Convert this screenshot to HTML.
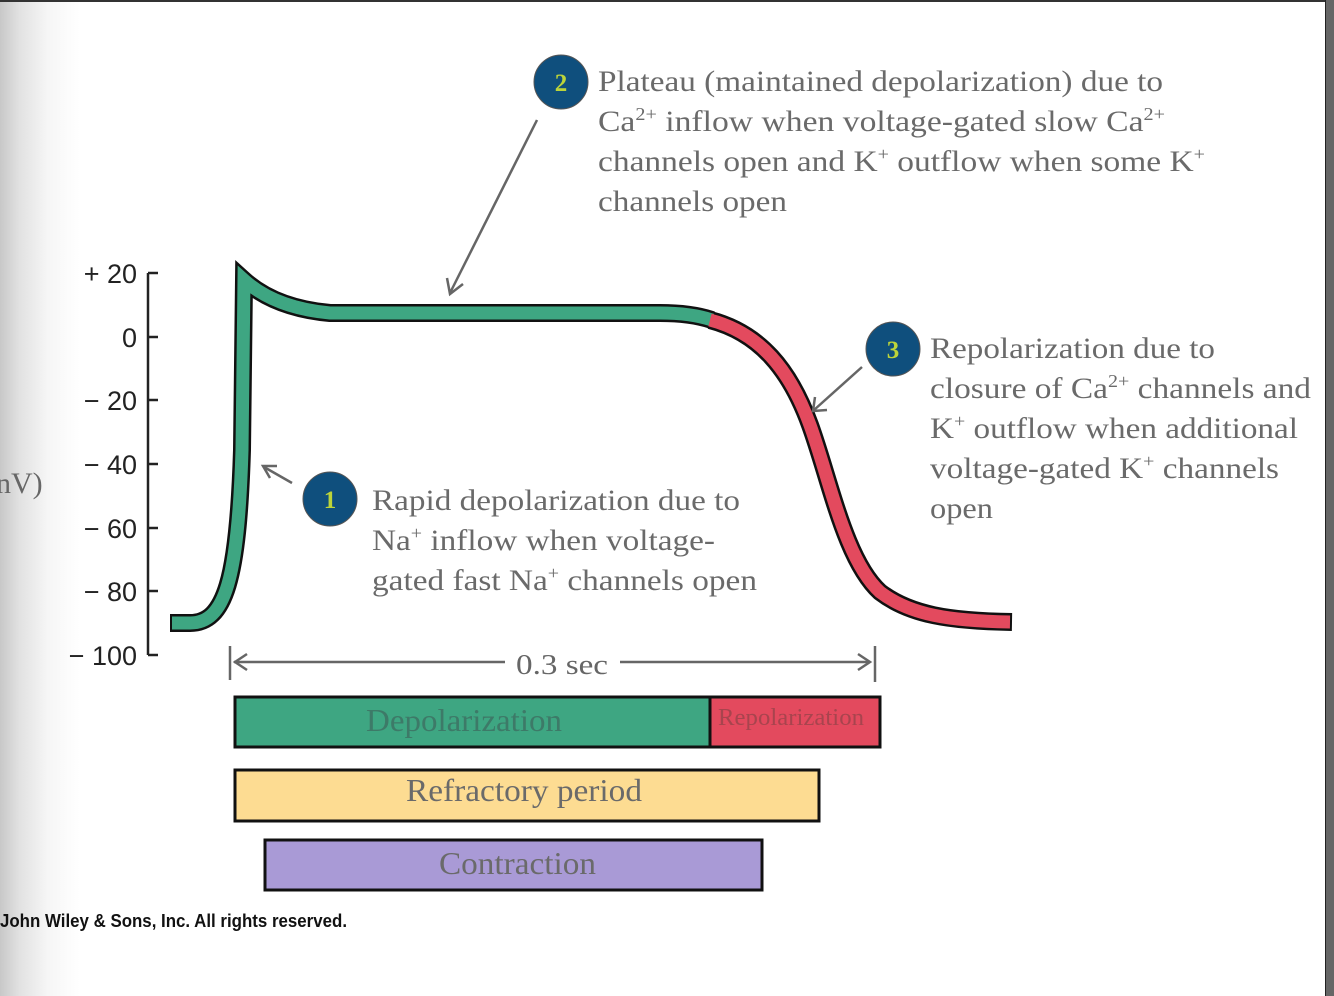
<!DOCTYPE html>
<html><head><meta charset="utf-8"><style>
html,body{margin:0;padding:0;background:#fff;}
svg{display:block;}
</style></head><body>
<svg width="1334" height="996" viewBox="0 0 1334 996" xmlns="http://www.w3.org/2000/svg">
<defs>
<linearGradient id="lg" x1="0" x2="1" y1="0" y2="0">
<stop offset="0" stop-color="#c8c8c8"/><stop offset="0.25" stop-color="#e2e2e2"/><stop offset="0.6" stop-color="#f6f6f6"/><stop offset="1" stop-color="#fff"/>
</linearGradient>
</defs>
<rect width="1334" height="996" fill="#fff"/>
<rect x="0" y="0" width="80" height="996" fill="url(#lg)"/>
<rect x="0" y="0" width="1334" height="2" fill="#333"/>
<rect x="1326" y="0" width="8" height="996" fill="#666"/>
<rect x="1325" y="0" width="1" height="996" fill="#222"/>

<!-- axis -->
<g stroke="#222" stroke-width="2.5" fill="none">
<line x1="148" y1="273" x2="148" y2="655"/>
<line x1="148" y1="273" x2="158" y2="273"/>
<line x1="148" y1="337" x2="158" y2="337"/>
<line x1="148" y1="400" x2="158" y2="400"/>
<line x1="148" y1="464" x2="158" y2="464"/>
<line x1="148" y1="528" x2="158" y2="528"/>
<line x1="148" y1="591" x2="158" y2="591"/>
<line x1="148" y1="655" x2="158" y2="655"/>
</g>
<g font-family="Liberation Sans, sans-serif" font-size="27" fill="#222" text-anchor="end">
<text x="137" y="283">+ 20</text>
<text x="137" y="347">0</text>
<text x="137" y="410">− 20</text>
<text x="137" y="474">− 40</text>
<text x="137" y="538">− 60</text>
<text x="137" y="601">− 80</text>
<text x="137" y="665">− 100</text>
</g>
<text x="-4" y="493" font-family="Liberation Serif, serif" font-size="30" fill="#666">nV)</text>

<!-- curve -->
<g fill="none" stroke-linejoin="miter" stroke-miterlimit="10">
<path d="M170,623 L190,623 C225,623 238,580 242,450 L244,280 Q275,308 330,313 L660,313 C685,313 700,316 712,320" stroke="#111" stroke-width="18"/>
<path d="M710,320 C760,333 790,370 810,425 C830,480 845,560 880,592 C910,615 950,621 1012,622" stroke="#111" stroke-width="18"/>
<path d="M172,623 L190,623 C225,623 238,580 242,450 L244,280 Q275,308 330,313 L660,313 C685,313 700,316 712,320" stroke="#3ea682" stroke-width="13"/>
<path d="M710,320 C760,333 790,370 810,425 C830,480 845,560 880,592 C910,615 950,621 1010,622" stroke="#e34a5e" stroke-width="13"/>
</g>

<!-- arrows -->
<g stroke="#666" stroke-width="2.5" fill="none">
<line x1="537" y1="120" x2="450" y2="293"/>
<polyline points="447,278 450,294 463,284"/>
<line x1="862" y1="367" x2="814" y2="410"/>
<polyline points="815,397 813,411 827,410"/>
<line x1="292" y1="483" x2="264" y2="467"/>
<polyline points="277,466 263,466 270,478"/>
<line x1="230" y1="646" x2="230" y2="680"/>
<line x1="875" y1="646" x2="875" y2="682"/>
<line x1="234" y1="662" x2="505" y2="662"/>
<line x1="620" y1="662" x2="870" y2="662"/>
<polyline points="247,654 235,662 247,670"/>
<polyline points="858,654 870,662 858,670"/>
</g>
<text x="516" y="674" font-family="Liberation Serif, serif" font-size="29" fill="#666" textLength="92" lengthAdjust="spacingAndGlyphs">0.3 sec</text>

<!-- circles -->
<g font-family="Liberation Serif, serif" font-size="25" font-weight="bold" fill="#bcd43a" text-anchor="middle">
<circle cx="561" cy="82" r="27" fill="#0f4f7d" stroke="#555" stroke-width="1"/>
<text x="561" y="91">2</text>
<circle cx="893" cy="349" r="27" fill="#0f4f7d" stroke="#555" stroke-width="1"/>
<text x="893" y="358">3</text>
<circle cx="330" cy="499" r="27" fill="#0f4f7d" stroke="#555" stroke-width="1"/>
<text x="330" y="508">1</text>
</g>

<!-- text blocks -->
<g font-family="Liberation Serif, serif" font-size="30" fill="#6a6a6a">
<text x="598" y="91" textLength="565" lengthAdjust="spacingAndGlyphs">Plateau (maintained depolarization) due to</text>
<text x="598" y="131" textLength="567" lengthAdjust="spacingAndGlyphs">Ca<tspan font-size="18" dy="-11">2+</tspan><tspan dy="11"> inflow when voltage-gated slow Ca</tspan><tspan font-size="18" dy="-11">2+</tspan></text>
<text x="598" y="171" textLength="607" lengthAdjust="spacingAndGlyphs">channels open and K<tspan font-size="18" dy="-11">+</tspan><tspan dy="11"> outflow when some K</tspan><tspan font-size="18" dy="-11">+</tspan></text>
<text x="598" y="211" textLength="189" lengthAdjust="spacingAndGlyphs">channels open</text>

<text x="930" y="358" textLength="285" lengthAdjust="spacingAndGlyphs">Repolarization due to</text>
<text x="930" y="398" textLength="381" lengthAdjust="spacingAndGlyphs">closure of Ca<tspan font-size="18" dy="-11">2+</tspan><tspan dy="11"> channels and</tspan></text>
<text x="930" y="438" textLength="368" lengthAdjust="spacingAndGlyphs">K<tspan font-size="18" dy="-11">+</tspan><tspan dy="11"> outflow when additional</tspan></text>
<text x="930" y="478" textLength="349" lengthAdjust="spacingAndGlyphs">voltage-gated K<tspan font-size="18" dy="-11">+</tspan><tspan dy="11"> channels</tspan></text>
<text x="930" y="518" textLength="63" lengthAdjust="spacingAndGlyphs">open</text>

<text x="372" y="510" textLength="368" lengthAdjust="spacingAndGlyphs">Rapid depolarization due to</text>
<text x="372" y="550" textLength="343" lengthAdjust="spacingAndGlyphs">Na<tspan font-size="18" dy="-11">+</tspan><tspan dy="11"> inflow when voltage-</tspan></text>
<text x="372" y="590" textLength="385" lengthAdjust="spacingAndGlyphs">gated fast Na<tspan font-size="18" dy="-11">+</tspan><tspan dy="11"> channels open</tspan></text>
</g>

<!-- bars -->
<g stroke="#111" stroke-width="3">
<rect x="235" y="697" width="475" height="50" fill="#3ea682"/>
<rect x="710" y="697" width="170" height="50" fill="#e34a5e"/>
<rect x="235" y="770" width="584" height="51" fill="#fddc92"/>
<rect x="265" y="840" width="497" height="50" fill="#a99ad6"/>
</g>
<g font-family="Liberation Serif, serif">
<text x="366" y="731" font-size="32" fill="#3d7a68" textLength="196" lengthAdjust="spacingAndGlyphs">Depolarization</text>
<text x="718" y="725" font-size="24" fill="#a8444e" textLength="146" lengthAdjust="spacingAndGlyphs">Repolarization</text>
<text x="406" y="801" font-size="32" fill="#6a6a6a" textLength="236" lengthAdjust="spacingAndGlyphs">Refractory period</text>
<text x="439" y="874" font-size="32" fill="#6a6a6a" textLength="157" lengthAdjust="spacingAndGlyphs">Contraction</text>
</g>
<text x="0" y="927" font-family="Liberation Sans, sans-serif" font-size="18" font-weight="bold" fill="#111" textLength="347" lengthAdjust="spacingAndGlyphs">John Wiley &amp; Sons, Inc. All rights reserved.</text>
</svg>
</body></html>
